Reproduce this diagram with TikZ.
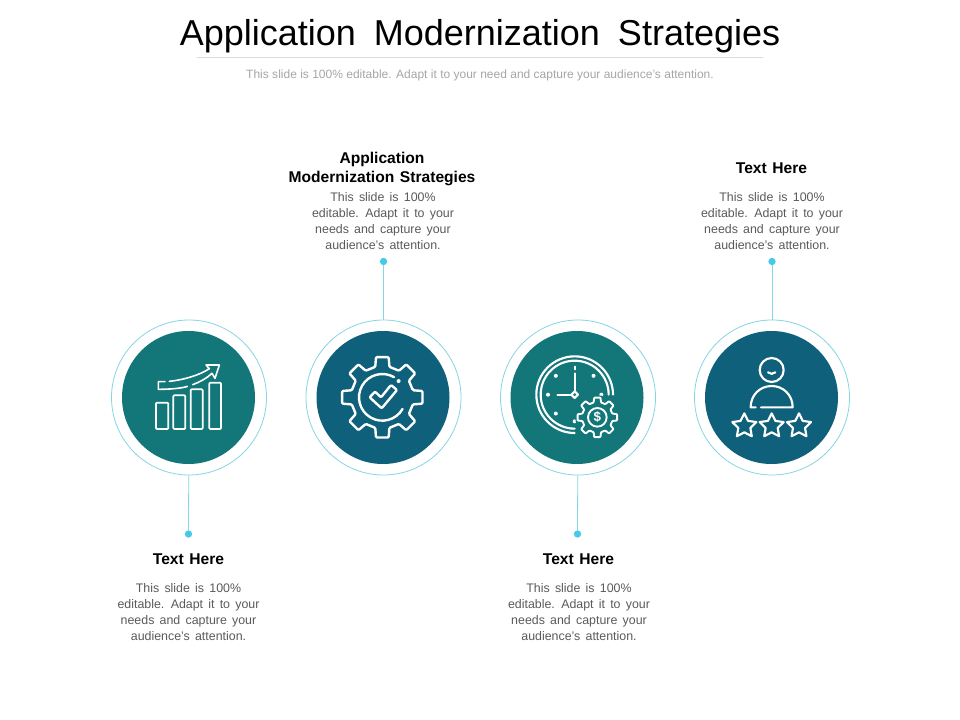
\documentclass[tikz,border=0pt]{standalone}
\usepackage{fontspec}
\setmainfont{Liberation Sans}
\definecolor{tealc}{HTML}{13777A}
\definecolor{bluec}{HTML}{0F607A}
\definecolor{ringc}{HTML}{85D6E2}
\definecolor{dotc}{HTML}{45CBE8}
\definecolor{bodyc}{HTML}{5A5A5A}
\newcommand{\titlefont}{\fontsize{27}{32}\selectfont\spaceskip=0.5em\relax}
\newcommand{\subfont}{\fontsize{9}{12}\selectfont\spaceskip=0.28em\relax}
\newcommand{\headfont}{\fontsize{11.7}{14.25}\selectfont\bfseries\spaceskip=0.36em\relax}
\newcommand{\bodyfont}{\fontsize{9.3}{12}\selectfont\spaceskip=0.42em\relax}
% eight-toothed gear outline around the current origin
\newcommand{\gearoutline}[4]{(-#4:#2) foreach \k in {0,...,7}{ -- ({\k*45-#4}:#2) -- ({\k*45-#3}:#1) -- ({\k*45+#3}:#1) -- ({\k*45+#4}:#2)} -- cycle}
\newcommand{\staroutline}{(-90:38) foreach \k in {0,...,4}{ -- ({\k*72-90}:38) -- ({\k*72-54}:19)} -- cycle}
\tikzset{
  ringn/.style={circle,draw=ringc,line width=0.6pt,fill=white,minimum size=116.25pt,inner sep=0pt},
  discn/.style={circle,minimum size=99.75pt,inner sep=0pt},
  dotn/.style={circle,fill=dotc,minimum size=5.5pt,inner sep=0pt},
  link/.style={draw=ringc,line width=0.6pt},
  icon/.style={draw=white,line width=1.6pt,line join=round,line cap=round},
  heading/.style={font=\headfont,text=black,align=center},
  bodyt/.style={font=\bodyfont,text=bodyc,align=center},
}
\begin{document}
\begin{tikzpicture}[x=0.75pt,y=-0.75pt]
\useasboundingbox (0,0) rectangle (960,720);
\fill[white] (0,0) rectangle (960,720);
\node[font=\titlefont,text=black] (title) at (480,36) {Application Modernization Strategies};
\coordinate (ruleL) at (197,57.5);
\coordinate (ruleR) at (763,57.5);
\draw[draw=black!14,line width=0.5pt] (ruleL) -- (ruleR);
\node[font=\subfont,text=black!35] (subtitle) at (480,75) {This slide is 100\% editable. Adapt it to your need and capture your audience’s attention.};

\node[ringn] (r1) at (189,397.5) {};
\node[ringn] (r2) at (383.5,397.5) {};
\node[ringn] (r3) at (578,397.5) {};
\node[ringn] (r4) at (772,397.5) {};
\node[discn,fill=tealc] (d1) at (188.5,397.5) {};
\node[discn,fill=bluec] (d2) at (383,397.5) {};
\node[discn,fill=tealc] (d3) at (577,397.5) {};
\node[discn,fill=bluec] (d4) at (771.5,397.5) {};

\node[dotn] (p1) at (188.5,534) {};
\node[dotn] (p2) at (383.5,261.5) {};
\node[dotn] (p3) at (577.5,534) {};
\node[dotn] (p4) at (772,261.5) {};
\draw[link] (p1) -- (r1);
\draw[link] (p2) -- (r2);
\draw[link] (p3) -- (r3);
\draw[link] (p4) -- (r4);

\node[heading] (h1) at (188.5,559.5) {Text Here};
\node[bodyt] (b1) at (188.5,612) {This slide is 100\%\\editable. Adapt it to your\\needs and capture your\\audience's attention.};
\node[heading] (h2) at (382,169) {Application\\Modernization Strategies};
\node[bodyt] (b2) at (383,221) {This slide is 100\%\\editable. Adapt it to your\\needs and capture your\\audience's attention.};
\node[heading] (h3) at (578.5,559.5) {Text Here};
\node[bodyt] (b3) at (579,612) {This slide is 100\%\\editable. Adapt it to your\\needs and capture your\\audience's attention.};
\node[heading] (h4) at (771.5,168.5) {Text Here};
\node[bodyt] (b4) at (772,221) {This slide is 100\%\\editable. Adapt it to your\\needs and capture your\\audience's attention.};

% icon 1: bars and rising arrow
\begin{scope}[shift={(100,310)},x=0.25pt,y=-0.25pt]
\draw[icon,line width=1.3pt,rounded corners=0.7pt] (168,278) rectangle (205,357);
\draw[icon,line width=1.3pt,rounded corners=0.7pt] (220,256) rectangle (256,357);
\draw[icon,line width=1.3pt,rounded corners=0.7pt] (272,238) rectangle (308,357);
\draw[icon,line width=1.3pt,rounded corners=0.7pt] (328,218) rectangle (363,357);
\draw[icon,line width=1.2pt] (195,215) -- (175,215) -- (175,238) .. controls (215,238) and (250,234) .. (262,229);
\draw[icon,line width=1.2pt] (278,224) .. controls (300,216) and (320,205) .. (336,190) -- (345,205) -- (358,165) -- (318,165) -- (328,176) .. controls (300,195) and (250,210) .. (208,214);
\end{scope}

% icon 2: gear with check
\begin{scope}[shift={(295,310)},x=0.25pt,y=-0.25pt]
\begin{scope}[shift={(262,262)}]
\draw[icon,line width=1.8pt,rounded corners=0.8pt] \gearoutline{122}{94}{9}{13};
\draw[icon,line width=1.8pt] (-60:70) arc (-60:-330:70);
\fill[white] (-45:69) circle (6);
\draw[icon,line width=1.8pt,rounded corners=0.8pt] (-38,0) -- (-22,-17) -- (-4,0) -- (26,-37) -- (44,-22) -- (-2,33) -- cycle;
\end{scope}
\end{scope}

% icon 3: clock with dollar gear
\begin{scope}[shift={(490,310)},x=0.25pt,y=-0.25pt]
\begin{scope}[shift={(254,254)}]
\draw[icon] (0:115) arc (0:-270:115);
\draw[icon] (0:102) arc (0:-270:102);
\draw[icon] (0,-64) -- (0,-10) (-52,0) -- (-10,0);
\draw[icon] (-10,0) -- (0,-10) -- (10,0) -- (0,10) -- cycle;
\draw[icon] (0,-84) -- (0,-76);
\foreach \a in {-45,0,90,135,180,225} {\fill[white] (\a:80) circle (6);}
\end{scope}
\begin{scope}[shift={(322,322)}]
\fill[tealc] (0,0) circle (66);
\draw[icon,line width=1.4pt,fill=tealc,rounded corners=0.5pt] \gearoutline{60}{46}{9}{14};
\draw[icon,line width=1.4pt] (0,0) circle (28);
\node[font=\fontsize{10}{12}\selectfont\bfseries,text=white,inner sep=0pt] (dollar) at (0,0) {\$};
\end{scope}
\end{scope}

% icon 4: person and three stars
\begin{scope}[shift={(685,310)},x=0.25pt,y=-0.25pt]
\draw[icon] (260,180) circle (36);
\draw[icon] (249,187) .. controls (255,193) and (265,193) .. (271,187);
\draw[icon] (212,292) -- (197,292) .. controls (197,255) and (225,228) .. (260,228) .. controls (295,228) and (323,255) .. (323,292) -- (228,292);
\foreach \c in {178,260,342} {
  \begin{scope}[shift={(\c,348)}]
  \draw[icon] \staroutline;
  \end{scope}
}
\end{scope}
\end{tikzpicture}
\end{document}
